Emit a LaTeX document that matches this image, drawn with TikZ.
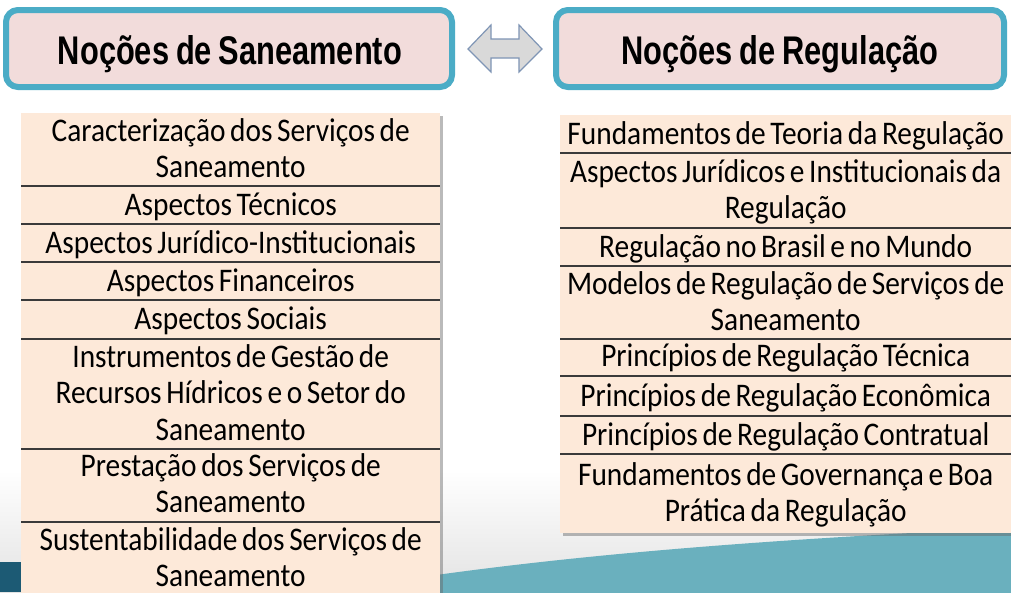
\documentclass[tikz,border=0pt]{standalone}
\usepackage{fontspec}
\setmainfont{Carlito}[FakeStretch=0.89, WordSpace=0.7]
\newfontfamily\headfont{Liberation Sans}[FakeStretch=0.77, WordSpace=0.8]
\usetikzlibrary{shadows}
\definecolor{hdrborder}{HTML}{4BACC6}
\definecolor{hdrfill}{HTML}{F2DCDB}
\definecolor{cellfill}{HTML}{FDE9D9}
\definecolor{sepcol}{HTML}{3A3A3A}
\definecolor{wave}{HTML}{6AB0BE}
\definecolor{darkwave}{HTML}{1C5A74}
\definecolor{arrfill}{HTML}{D9D9D9}
\definecolor{arrdraw}{HTML}{7F95B5}
\newcommand\tst{\rule[-8.25pt]{0pt}{36.5pt}}
\tikzset{
  hdrbox/.style={draw=hdrborder, line width=6pt, fill=hdrfill, rounded corners=12pt},
  hdrtext/.style={anchor=base, inner sep=0pt, font=\headfont\bfseries\fontsize{40}{44}\selectfont},
  tablebg/.style={fill=cellfill, anchor=north west, inner sep=0pt, minimum width=#1,
     drop shadow={shadow xshift=3pt, shadow yshift=-3pt, opacity=0.45, fill=black!60}},
  lcell/.style={anchor=north west, inner sep=0pt, minimum width=419pt, align=center,
     font=\fontsize{33}{36.5}\selectfont},
  rcell/.style={anchor=north west, inner sep=0pt, minimum width=451pt, align=center,
     font=\fontsize{33}{36.5}\selectfont},
  sepline/.style={draw=sepcol, line width=2pt}
}
\begin{document}
\begin{tikzpicture}[x=1pt,y=-1pt]
\useasboundingbox (0,0) rectangle (1011,592);
% background
\fill[white] (0,0) rectangle (1011,592);
\shade[top color=white, bottom color=gray!22] (0,470) rectangle (1011,592);
\fill[darkwave] (0,562) -- (40,562) -- (40,592) -- (0,592) -- cycle;
\fill[wave] (300,596) .. controls (450,571) and (620,546) .. (1011,528) -- (1011,596) -- cycle;

% headers
\draw[hdrbox] (6,10) rectangle (452,87);
\draw[hdrbox] (556,10) rectangle (1004,87);
\node[hdrtext] (hL) at (230,64) {Noções de Saneamento};
\node[hdrtext] (hR) at (780,64) {Noções de Regulação};

% double arrow
\draw[fill=arrfill, draw=arrdraw, line width=1.2pt, line join=miter]
  (468,49) -- (491,25) -- (491,39) -- (519,39) -- (519,25) -- (542,49)
  -- (519,72) -- (519,58) -- (491,58) -- (491,72) -- cycle;

% left table
\node[tablebg=419pt, minimum height=487pt] (tabL) at (21,113) {};
\node[lcell, minimum height=73pt] (L1) at (21,113) {\tst Caracterização dos Serviços de\\\tst Saneamento};
\node[lcell, minimum height=38pt] (L2) at (21,186) {\tst Aspectos Técnicos};
\node[lcell, minimum height=38pt] (L3) at (21,224) {\tst Aspectos Jurídico-Institucionais};
\node[lcell, minimum height=38pt] (L4) at (21,262) {\tst Aspectos Financeiros};
\node[lcell, minimum height=39pt] (L5) at (21,300) {\tst Aspectos Sociais};
\node[lcell, minimum height=108pt] (L6) at (21,339) {\tst Instrumentos de Gestão de\\\tst Recursos Hídricos e o Setor do\\\tst Saneamento};
\node[lcell, minimum height=75pt] (L7) at (21,447) {\tst Prestação dos Serviços de\\\tst Saneamento};
\node[lcell, minimum height=73pt] (L8) at (21,522) {\tst Sustentabilidade dos Serviços de\\\tst Saneamento};
\foreach \n in {L1,L2,L3,L4,L5,L6,L7}
  \draw[sepline] (\n.south west) -- (\n.south east);

% right table
\node[tablebg=451pt, minimum height=418pt] (tabR) at (560,115) {};
\node[rcell, minimum height=38pt] (R1) at (560,115) {\tst Fundamentos de Teoria da Regulação};
\node[rcell, minimum height=75pt] (R2) at (560,153) {\tst Aspectos Jurídicos e Institucionais da\\\tst Regulação};
\node[rcell, minimum height=38pt] (R3) at (560,228) {\tst Regulação no Brasil e no Mundo};
\node[rcell, minimum height=71pt] (R4) at (560,266) {\tst Modelos de Regulação de Serviços de\\\tst Saneamento};
\node[rcell, minimum height=39pt] (R5) at (560,337) {\tst Princípios de Regulação Técnica};
\node[rcell, minimum height=40pt] (R6) at (560,376) {\tst Princípios de Regulação Econômica};
\node[rcell, minimum height=38pt] (R7) at (560,416) {\tst Princípios de Regulação Contratual};
\node[rcell, minimum height=79pt] (R8) at (560,454) {\tst Fundamentos de Governança e Boa\\\tst Prática da Regulação};
\foreach \n in {R1,R2,R3,R4,R5,R6,R7}
  \draw[sepline] (\n.south west) -- (\n.south east);
\end{tikzpicture}
\end{document}
